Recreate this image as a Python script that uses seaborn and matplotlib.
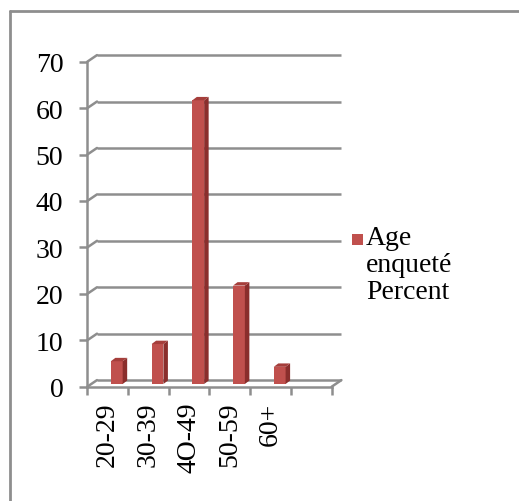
import matplotlib
matplotlib.use("Agg")
import matplotlib.pyplot as plt
import matplotlib.transforms as mtransforms
from matplotlib.patches import Polygon, Rectangle
from matplotlib.lines import Line2D
import numpy as np
import pandas as pd
import seaborn as sns

# ---- data -------------------------------------------------------------
age_groups = ["20-29", "30-39", "4O-49", "50-59", "60+"]
percent = [4.9, 8.6, 61.1, 21.2, 3.7]
y_ticks = [0, 10, 20, 30, 40, 50, 60, 70]
legend_label = "Age\nenqueté\nPercent"

# ---- style ------------------------------------------------------------
BAR_FRONT = "#c0504d"
BAR_SIDE = "#8a2e2c"
BAR_TOP = "#a53e3b"
GRID = "#8e8e8e"
LW = 1.8
FONT_SIZE = 20

sns.set_theme(style="white")
plt.rcParams["font.family"] = ["Liberation Serif", "DejaVu Serif"]

W, H, DPI = 519, 502, 100
fig = plt.figure(figsize=(W / DPI, H / DPI), dpi=DPI)
fig.patch.set_facecolor("white")

# front plane of the plot area (pixel box converted to figure fractions)
left_px, right_px, top_px, bottom_px = 87.3, 331.7, 62.7, 387.7
ax = fig.add_axes([left_px / W, 1 - bottom_px / H,
                   (right_px - left_px) / W, (bottom_px - top_px) / H])
ax.set_facecolor("none")

df = pd.DataFrame({"age": age_groups, "pct": percent})
sns.barplot(data=df, x="age", y="pct", color=BAR_FRONT, width=0.29,
            saturation=1, edgecolor="none", linewidth=0, ax=ax, zorder=3)

n_slots = len(age_groups) + 1
ax.set_xlim(-0.5, n_slots - 0.5)
ax.set_ylim(0, max(y_ticks))


def px_to_data(dx, dy):
    """Convert a pixel offset into data units for this axes."""
    inv = ax.transData.inverted()
    p0 = ax.transData.transform((0, 0))
    return inv.transform(p0 + np.array([dx, dy])) - inv.transform(p0)


# back wall / floor depth
wx, wy = px_to_data(9.7, 6.6)
x_lo, x_hi = -0.5, n_slots - 0.5
for v in y_ticks:
    ax.plot([x_lo + wx, x_hi + wx], [v + wy, v + wy], color=GRID, lw=LW,
            clip_on=False, zorder=1, solid_capstyle="butt")
    ax.plot([x_lo, x_lo + wx], [v, v + wy], color=GRID, lw=LW,
            clip_on=False, zorder=1)
ax.plot([x_hi, x_hi + wx], [0, wy], color=GRID, lw=LW, clip_on=False, zorder=1)

# 3D faces for each bar
bx, by = px_to_data(4.5, 3.4)
bar_shift = ax.transData + mtransforms.ScaledTranslation(9.1 / DPI, 2.7 / DPI,
                                                         fig.dpi_scale_trans)
for patch in list(ax.patches):
    x0, w, h = patch.get_x(), patch.get_width(), patch.get_height()
    patch.set_transform(bar_shift)
    side = Polygon([(x0 + w, 0), (x0 + w + bx, by), (x0 + w + bx, h + by), (x0 + w, h)],
                   closed=True, facecolor=BAR_SIDE, edgecolor="none",
                   transform=bar_shift, zorder=3)
    top = Polygon([(x0, h), (x0 + bx, h + by), (x0 + w + bx, h + by), (x0 + w, h)],
                  closed=True, facecolor=BAR_TOP, edgecolor="none",
                  transform=bar_shift, zorder=3)
    ax.add_patch(side)
    ax.add_patch(top)

# axes lines and ticks
for s in ["top", "right"]:
    ax.spines[s].set_visible(False)
for s in ["left", "bottom"]:
    ax.spines[s].set_color(GRID)
    ax.spines[s].set_linewidth(LW)
    ax.spines[s].set_zorder(2)

ax.set_yticks(y_ticks)
ax.set_yticklabels([str(v) for v in y_ticks])
ax.tick_params(axis="y", direction="out", length=5.8, width=LW, color=GRID,
               pad=11.5, labelsize=FONT_SIZE, labelcolor="black", left=True)

ax.set_xticks(range(len(age_groups)))
ax.set_xticklabels(age_groups, rotation=90)
ax.set_xticks(np.arange(-0.5, n_slots, 1.0), minor=True)
ax.tick_params(axis="x", which="major", length=0, pad=10.5,
               labelsize=FONT_SIZE, labelcolor="black")
ax.tick_params(axis="x", which="minor", direction="out", length=5.8,
               width=LW, color=GRID, bottom=True)
ax.set_xlabel("")
ax.set_ylabel("")
ax.grid(False)

# chart frame (top and left edges visible)
fig.add_artist(Line2D([10 / W, 1], [1 - 12 / H, 1 - 12 / H], color=GRID, lw=2,
                      transform=fig.transFigure))
fig.add_artist(Line2D([10 / W, 10 / W], [1 - 12 / H, 0], color=GRID, lw=2,
                      transform=fig.transFigure))

# legend
fig.add_artist(Rectangle((352 / W, 1 - 246 / H), 11 / W, 11 / H,
                         facecolor=BAR_FRONT, edgecolor="none",
                         transform=fig.transFigure))
fig.text(366 / W, 1 - 226 / H, legend_label, ha="left", va="top",
         fontsize=FONT_SIZE, linespacing=1.1, color="black")

fig.savefig("out.png", dpi=DPI, facecolor="white")
